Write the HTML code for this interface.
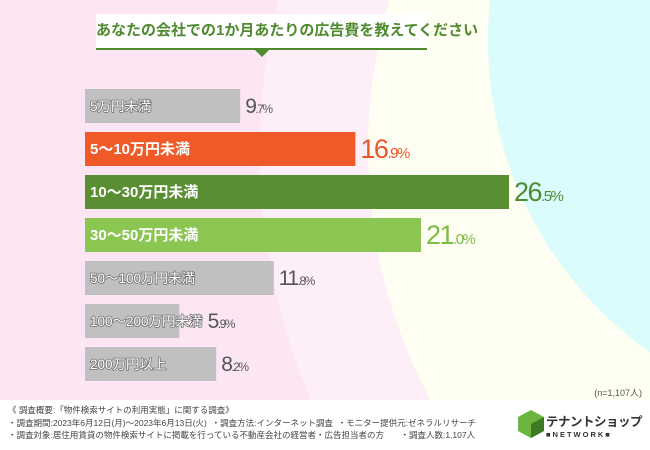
<!DOCTYPE html>
<html><head><meta charset="utf-8"><style>
html,body{margin:0;width:650px;height:450px;overflow:hidden;font-family:"Liberation Sans","Noto Sans CJK JP",sans-serif;}
#wrap{position:relative;width:650px;height:450px;background:#fde6f3;overflow:hidden}
.t{position:absolute;white-space:nowrap}
.gl{paint-order:stroke;stroke:#707070;stroke-width:1.6px;stroke-linejoin:round}
</style></head><body>
<div id="wrap">
<svg width="650" height="450" style="position:absolute;left:0;top:0">
<circle cx="900" cy="150" r="640" fill="#fdeef7"/>
<circle cx="900" cy="150" r="532" fill="#fefef2"/>
<circle cx="870" cy="40" r="382" fill="#dafcfd"/>
<rect x="0" y="400" width="650" height="50" fill="#ffffff"/>
</svg>
<div class="t" style="left:96px;top:14px;width:331px;height:34px;background:#fff;border-bottom:2px solid #4f8a2e;color:#4f8a2e;font-size:15px;font-weight:bold;line-height:34px;text-align:center">あなたの会社での1か月あたりの広告費を教えてください</div>
<svg width="20" height="10" style="position:absolute;left:252px;top:49px"><polygon points="2,0 18,0 10,8" fill="#4f8a2e"/></svg>
<svg id="bars" width="650" height="400" style="position:absolute;left:0;top:0"></svg>
<div class="t" style="right:8px;top:386px;font-size:9px;color:#555">(n=1,107人)</div>
<div class="t" style="left:8px;top:404px;font-size:8.5px;color:#444;line-height:12.5px">《 調査概要:「物件検索サイトの利用実態」に関する調査》<br>・調査期間:2023年6月12日(月)～2023年6月13日(火) &nbsp;・調査方法:インターネット調査 &nbsp;・モニター提供元:ゼネラルリサーチ<br>・調査対象:居住用賃貸の物件検索サイトに掲載を行っている不動産会社の経営者・広告担当者の方 &nbsp;&nbsp;&nbsp;&nbsp;&nbsp;&nbsp;・調査人数:1,107人</div>
<svg width="30" height="30" style="position:absolute;left:516px;top:409px"><polygon points="15,1 28,8 28,22 15,29 2,22 2,8" fill="#6db33f"/><polygon points="15,15 28,8 28,22 15,29" fill="#3d7a22"/></svg>
<div class="t" style="left:546px;top:411px;font-size:12.5px;font-weight:bold;color:#333;letter-spacing:-0.5px">テナントショップ</div>
<div class="t" style="left:546px;top:430px;font-size:7.5px;font-weight:bold;color:#333;letter-spacing:2px">■NETWORK■</div>
</div>
<script>
const categories=["5万円未満","5～10万円未満","10～30万円未満","30～50万円未満","50～100万円未満","100～200万円未満","200万円以上"];
const values=[9.7,16.9,26.5,21.0,11.8,5.9,8.2];
const colors=["#c0c0c0","#f05a28","#5a8e32","#8cc652","#c0c0c0","#c0c0c0","#c0c0c0"];
const textColors=["#555","#e8562a","#4f8a2e","#7cbd44","#555","#555","#555"];
const x0=85,pxPer=16.0,top0=89,pitch=43,bh=34;
const xs=v=>x0+v*pxPer, ys=i=>top0+i*pitch;
const svg=document.getElementById('bars');
const NS="http://www.w3.org/2000/svg";
categories.forEach((c,i)=>{
  const big=i>=1&&i<=3;
  const r=document.createElementNS(NS,'rect');
  r.setAttribute('x',x0);r.setAttribute('y',ys(i));r.setAttribute('width',xs(values[i])-x0);r.setAttribute('height',bh);r.setAttribute('fill',colors[i]);
  
  
  svg.appendChild(r);
  const l=document.createElementNS(NS,'text');
  l.setAttribute('x',x0+5);l.setAttribute('y',ys(i)+bh/2+5);l.setAttribute('font-size',big?'15':'13.5');l.setAttribute('font-weight',big?'bold':'normal');
  const barEnd=xs(values[i]);
  l.setAttribute('fill','#fff');
  if(!big) l.setAttribute('class','gl');
  l.textContent=c;
  
  
  svg.appendChild(l);
  const lend=x0+5+l.getComputedTextLength();
  const s=values[i].toFixed(1).split('.');
  const v=document.createElementNS(NS,'text');
  v.setAttribute('x',Math.max(barEnd,lend)+5);v.setAttribute('y',ys(i)+bh/2+(big?9:7));v.setAttribute('fill',textColors[i]);
  v.setAttribute('letter-spacing','-1.5');
  v.innerHTML='<tspan font-size="'+(big?27:21)+'">'+s[0]+'</tspan><tspan font-size="'+(big?15:12)+'">.'+s[1]+'%</tspan>';
  
  
  svg.appendChild(v);
});
</script>
</body></html>
